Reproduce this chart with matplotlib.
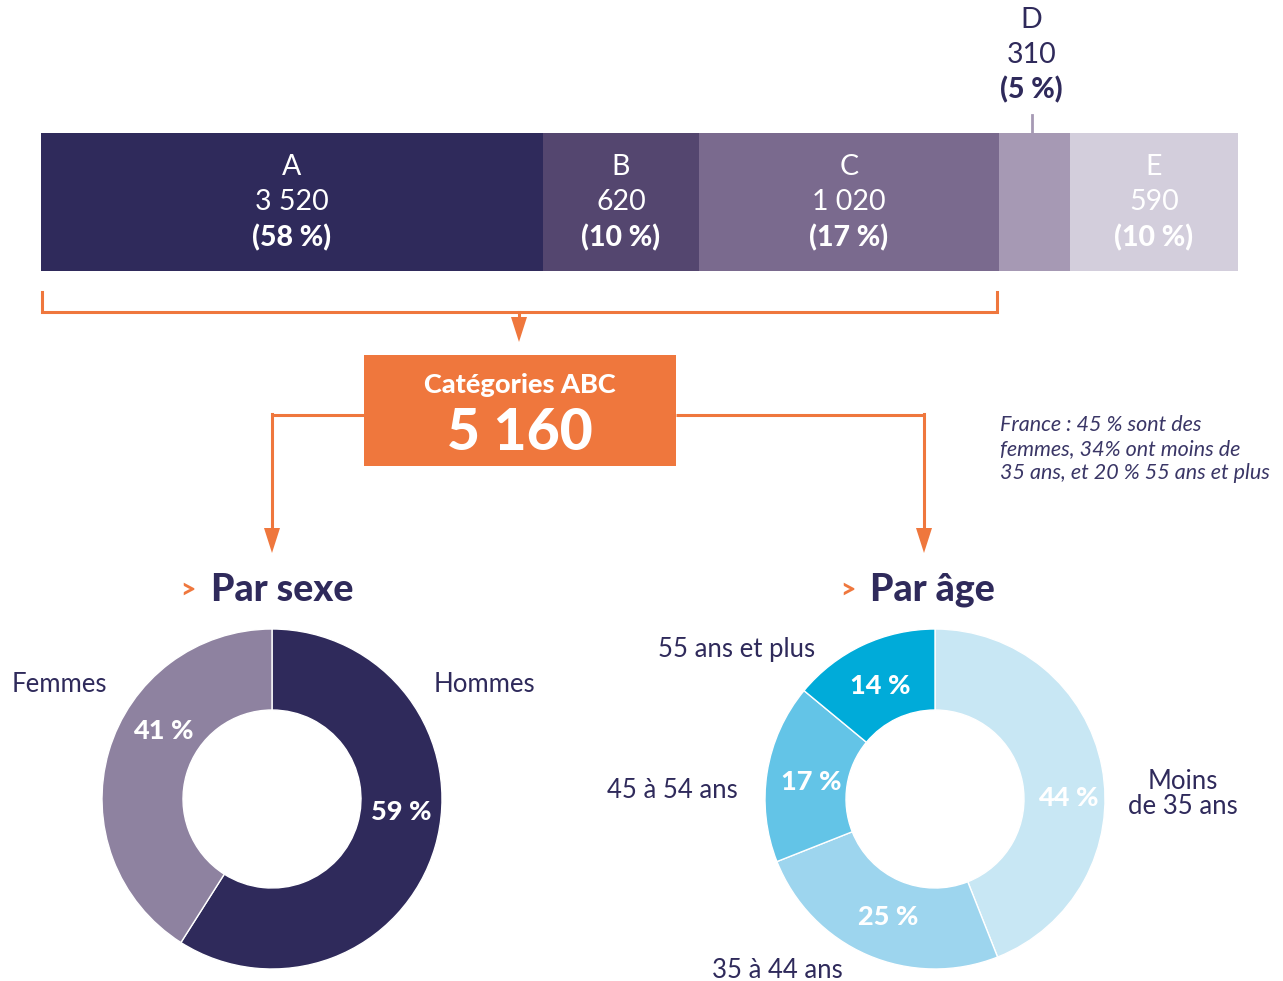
import numpy as np
import matplotlib
matplotlib.use('Agg')
import matplotlib.pyplot as plt
from matplotlib.patches import Polygon, Rectangle

# données
cat_labels = ['A', 'B', 'C', 'D', 'E']
cat_values = ['3 520', '620', '1 020', '310', '590']
cat_pct = ['(58 %)', '(10 %)', '(17 %)', '(5 %)', '(10 %)']
seg_len = [502, 156, 300, 71, 168]   # longueurs
total_abc = '5 160'

sexe_labels = ['Hommes', 'Femmes']
sexe_pct = [59, 41]

age_labels = ['Moins\nde 35 ans', '35 à 44 ans', '45 à 54 ans', '55 ans et plus']
age_pct = [44, 25, 17, 14]

note = 'France : 45 % sont des\nfemmes, 34% ont moins de\n35 ans, et 20 % 55 ans et plus'

# couleurs
NAVY = '#2f2a5b'
ORANGE = '#ef773d'
bar_colors = ['#2f2a5b', '#54466f', '#7a6a8e', '#a699b4', '#d3cedc']
sexe_colors = ['#2f2a5b', '#8e82a0']
age_colors = ['#c8e7f4', '#9dd5ee', '#63c4e7', '#00abd9']

plt.rcParams['font.family'] = ['Lato', 'DejaVu Sans']

W, H = 1283, 981
fig = plt.figure(figsize=(W / 100, H / 100), dpi=100)
ax = fig.add_axes([0, 0, 1, 1])


def Y(y):
    # pixels depuis le haut -> coordonnées
    return H - y


# barre empilée
x0 = 41
lefts = x0 + np.concatenate([[0], np.cumsum(seg_len)[:-1]])
ax.barh(Y(202), seg_len, left=lefts, height=138, color=bar_colors, linewidth=0)
for i in range(len(cat_labels)):
    cx = lefts[i] + seg_len[i] / 2
    if cat_labels[i] == 'D':
        cx = cx - 3
        ax.plot([cx, cx], [Y(115), Y(133)], color='#a699b4', lw=2)
        col, ys = NAVY, (20, 55, 90)
    else:
        col, ys = 'white', (167, 202, 238)
    ax.text(cx, Y(ys[0]), cat_labels[i], color=col, fontsize=20.5, weight='normal', ha='center', va='center')
    ax.text(cx, Y(ys[1]), cat_values[i], color=col, fontsize=20.5, weight='normal', ha='center', va='center')
    ax.text(cx, Y(ys[2]), cat_pct[i], color=col, fontsize=20.5, weight='black', ha='center', va='center')

# accolade orange sous A, B, C
x_end = lefts[2] + seg_len[2] - 2
ax.plot([x0 + 1, x0 + 1, x_end, x_end], [Y(292), Y(312), Y(312), Y(292)], color=ORANGE, lw=2.2,
        solid_joinstyle='miter')


def arrow_down(x, y1, y2):
    ax.plot([x, x], [Y(y1), Y(y2 - 20)], color=ORANGE, lw=2.2)
    ax.add_patch(Polygon([[x - 8, Y(y2 - 25)], [x + 8, Y(y2 - 25)], [x, Y(y2)]], closed=True,
                         facecolor=ORANGE, edgecolor='none'))


arrow_down(519, 312, 342)

# boîte ABC
ax.add_patch(Rectangle((364, Y(466)), 312, 111, facecolor=ORANGE, edgecolor='none'))
ax.text(520, Y(385), 'Catégories ABC', color='white', fontsize=19.5, weight='black', ha='center', va='center')
ax.text(520, Y(434), total_abc, color='white', fontsize=41, weight='black', ha='center', va='center')

# flèches vers les anneaux
ax.plot([364, 272], [Y(415), Y(415)], color=ORANGE, lw=2.2, solid_capstyle='butt')
arrow_down(272, 414, 553)
ax.plot([676, 924], [Y(415), Y(415)], color=ORANGE, lw=2.2, solid_capstyle='butt')
arrow_down(924, 414, 553)

# titres
ax.text(188, Y(590), '>', color=ORANGE, fontsize=19, weight='black', ha='center', va='center')
ax.text(211, Y(590), 'Par sexe', color=NAVY, fontsize=27, weight='black', ha='left', va='center')
ax.text(848, Y(590), '>', color=ORANGE, fontsize=19, weight='black', ha='center', va='center')
ax.text(870, Y(590), 'Par âge', color=NAVY, fontsize=27, weight='black', ha='left', va='center')

# anneau par sexe
r_out, r_in = 170, 89
ax.pie(sexe_pct, colors=sexe_colors, startangle=90, counterclock=False, center=(272, Y(799)),
       radius=r_out, wedgeprops=dict(width=r_out - r_in, edgecolor='white', linewidth=1))
ax.text(401, Y(812), '%d %%' % sexe_pct[0], color='white', fontsize=19.5, weight='black', ha='center', va='center')
ax.text(163, Y(731), '%d %%' % sexe_pct[1], color='white', fontsize=19.5, weight='black', ha='center', va='center')
ax.text(535, Y(685), sexe_labels[0], color=NAVY, fontsize=18.5, ha='right', va='center')
ax.text(12, Y(685), sexe_labels[1], color=NAVY, fontsize=18.5, ha='left', va='center')

# anneau par âge
ax.pie(age_pct, colors=age_colors, startangle=90, counterclock=False, center=(935, Y(799)),
       radius=r_out, wedgeprops=dict(width=r_out - r_in, edgecolor='white', linewidth=1))
pct_pos = [(1068, 798), (888, 917), (811, 782), (880, 686)]
for p, (px, py) in zip(age_pct, pct_pos):
    ax.text(px, Y(py), '%d %%' % p, color='white', fontsize=19.5, weight='black', ha='center', va='center')
ax.text(1183, Y(794), age_labels[0], color=NAVY, fontsize=18.5, ha='center', va='center', linespacing=1.0)
ax.text(777, Y(971), age_labels[1], color=NAVY, fontsize=18.5, ha='center', va='center')
ax.text(738, Y(791), age_labels[2], color=NAVY, fontsize=18.5, ha='right', va='center')
ax.text(815, Y(650), age_labels[3], color=NAVY, fontsize=18.5, ha='right', va='center')

# note France
ax.text(1000, Y(449), note, color='#3a3666', fontsize=15.5, style='italic', ha='left', va='center',
        linespacing=1.22)

ax.set_xlim(0, W)
ax.set_ylim(0, H)
ax.set_aspect('auto')
ax.axis('off')
fig.savefig('out.png', dpi=100)
